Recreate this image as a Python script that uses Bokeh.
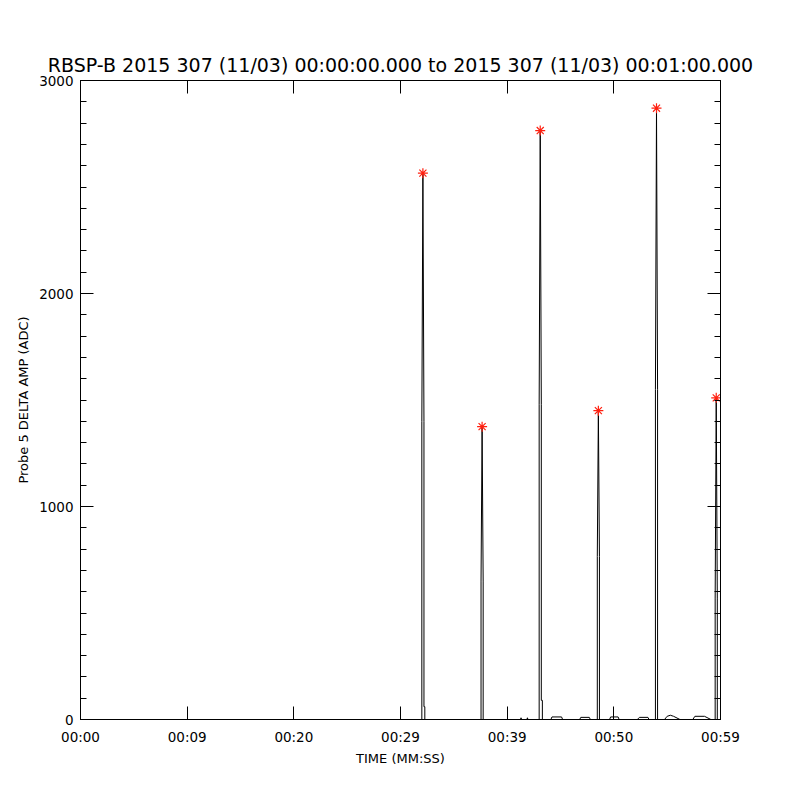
from bokeh.plotting import figure
from bokeh.models import Range1d, LinearAxis, FixedTicker, ColumnDataSource
from bokeh.embed import file_html
from bokeh.resources import INLINE

# ---- data ----
TIME_S = [0.0, 32.0, 32.0, 32.1, 32.2, 32.2, 32.28, 32.28,
          37.55, 37.55, 37.65, 37.75, 37.75,
          41.25, 41.3, 41.35, 41.85, 41.9, 41.95,
          43.0, 43.0, 43.1, 43.2, 43.2, 43.3, 43.3,
          44.1, 44.2, 45.1, 45.2,
          46.8, 46.9, 47.7, 47.8,
          48.45, 48.45, 48.55, 48.65, 48.65,
          49.6, 49.7, 50.4, 50.5,
          52.2, 52.4, 53.2, 53.3,
          53.9, 53.9, 54.0, 54.1, 54.1,
          54.75, 55.0, 55.3, 55.6, 56.2,
          57.4, 57.6, 58.5, 59.1,
          59.5, 59.5, 59.6, 59.7, 59.7, 60.0]
AMP = [0, 0, 1400, 2565, 1400, 60, 60, 0,
       0, 650, 1375, 650, 0,
       0, 8, 0, 0, 8, 0,
       0, 1480, 2765, 1480, 90, 90, 0,
       0, 12, 12, 0,
       0, 10, 10, 0,
       0, 765, 1450, 765, 0,
       0, 12, 12, 0,
       0, 10, 10, 0,
       0, 1550, 2870, 1550, 0,
       0, 15, 20, 15, 0,
       0, 15, 15, 0,
       0, 570, 1510, 570, 0, 0]

PEAK_T = [32.1, 37.65, 43.1, 48.55, 54.0, 59.6]
PEAK_V = [2565, 1375, 2765, 1450, 2870, 1510]

X_TICKS = [0, 10, 20, 30, 40, 50, 60]
X_LABELS = ["00:00", "00:09", "00:20", "00:29", "00:39", "00:50", "00:59"]
Y_TICKS = [0, 1000, 2000, 3000]
Y_MINOR = [v for v in range(0, 3001, 100)]

TITLE = "RBSP-B 2015 307 (11/03) 00:00:00.000 to 2015 307 (11/03) 00:01:00.000"
XLABEL = "TIME (MM:SS)"
YLABEL = "Probe 5 DELTA AMP (ADC)"

FONT = "DejaVu Sans"

p = figure(width=790, height=790, output_backend="svg", toolbar_location=None,
           x_range=Range1d(0, 60), y_range=Range1d(0, 3000),
           x_axis_location=None, y_axis_location=None,
           min_border_left=80, min_border_right=70,
           min_border_top=80, min_border_bottom=71)
p.xgrid.visible = False
p.ygrid.visible = False
p.outline_line_color = "black"
p.background_fill_color = "white"
p.border_fill_color = "white"

p.title.text = TITLE
p.title.align = "center"
p.title.text_font = FONT
p.title.text_font_size = "19px"
p.title.text_font_style = "normal"
p.title.text_color = "black"
p.title.standoff = 10

xt = FixedTicker(ticks=X_TICKS, minor_ticks=[])
yt = FixedTicker(ticks=Y_TICKS, minor_ticks=Y_MINOR)

def style(ax, labels=True):
    ax.axis_line_color = "black"
    ax.major_tick_line_color = "black"
    ax.minor_tick_line_color = "black"
    ax.major_tick_in = 13
    ax.major_tick_out = 0
    ax.minor_tick_in = 6
    ax.minor_tick_out = 0
    ax.major_label_text_font = FONT
    if labels:
        ax.major_label_text_font_size = "13.5px"
        ax.major_label_text_color = "black"
    else:
        ax.major_label_text_font_size = "0px"
        ax.major_label_text_color = None
    ax.axis_label_text_font = FONT
    ax.axis_label_text_font_size = "13px"
    ax.axis_label_text_font_style = "normal"
    ax.axis_label_text_color = "black"

bottom = LinearAxis(ticker=xt, axis_label=XLABEL)
style(bottom)
bottom.major_label_overrides = {t: l for t, l in zip(X_TICKS, X_LABELS)}
bottom.major_label_standoff = 9
bottom.axis_label_standoff = 3
p.add_layout(bottom, "below")

top = LinearAxis(ticker=xt)
style(top, labels=False)
top.major_label_standoff = 0
p.add_layout(top, "above")

left = LinearAxis(ticker=yt, axis_label=YLABEL)
style(left)
left.major_label_standoff = 7
left.axis_label_standoff = 5
p.add_layout(left, "left")

right = LinearAxis(ticker=yt)
style(right, labels=False)
right.major_label_standoff = 0
p.add_layout(right, "right")

src = ColumnDataSource(dict(t=TIME_S, v=AMP))
p.line("t", "v", source=src, line_color="black", line_width=1)

pk = ColumnDataSource(dict(t=PEAK_T, v=PEAK_V))
p.scatter("t", "v", source=pk, marker="asterisk", size=10,
          line_color="#ff2010", line_width=1.2)

open("out.html", "w").write(file_html(p, INLINE))
